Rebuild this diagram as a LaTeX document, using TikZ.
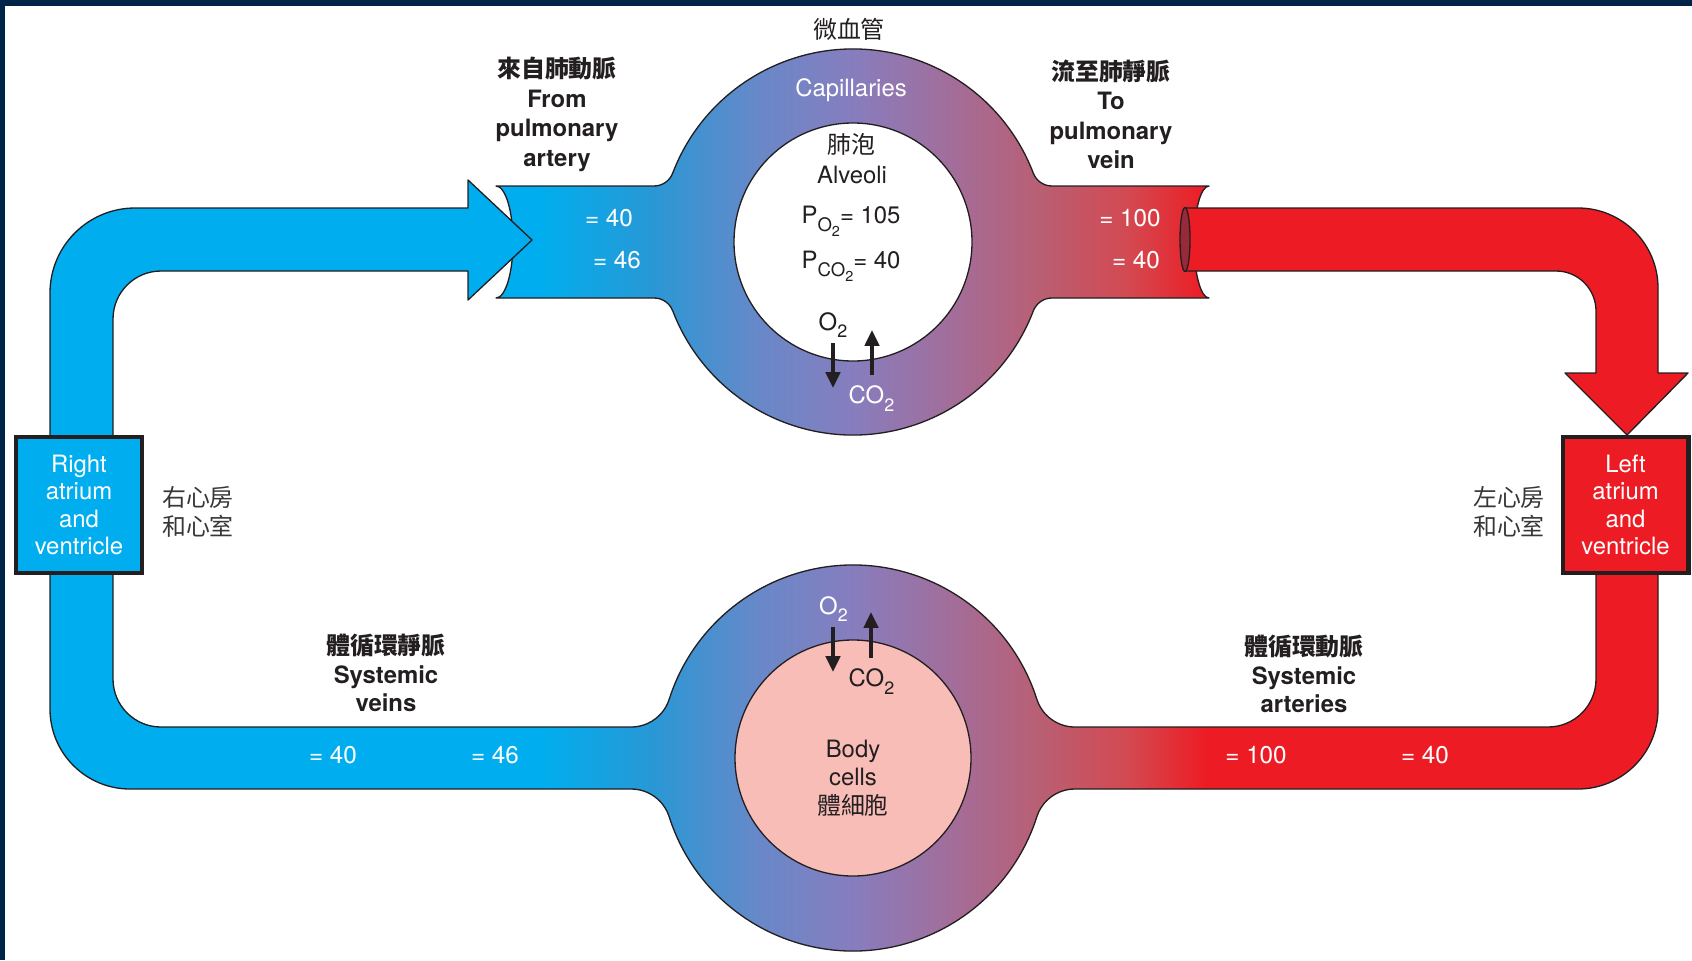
\documentclass[tikz,border=0pt]{standalone}
\usepackage{fontspec}
\setmainfont{TeX Gyre Heros}
\newfontfamily\cjk{Noto Sans CJK TC}
\usetikzlibrary{arrows.meta}
\definecolor{navy}{RGB}{0,36,72}
\definecolor{bluec}{RGB}{0,174,239}
\definecolor{redc}{RGB}{237,28,36}
\definecolor{ga}{RGB}{40,152,214}
\definecolor{gb}{RGB}{105,136,200}
\definecolor{gc}{RGB}{135,125,190}
\definecolor{gd}{RGB}{165,108,150}
\definecolor{ge}{RGB}{185,95,115}
\definecolor{gf}{RGB}{212,72,80}
\definecolor{ink}{RGB}{35,31,32}
\definecolor{pinkc}{RGB}{249,189,184}
\definecolor{darkred}{RGB}{150,42,58}
\definecolor{grayt}{RGB}{55,55,55}

\newcommand\gradfill{%
 \fill[bluec] (0,0) rectangle (541,960);
 \shade[left color=bluec,right color=ga] (540,0) rectangle (651,960);
 \shade[left color=ga,right color=gb] (650,0) rectangle (761,960);
 \shade[left color=gb,right color=gc] (760,0) rectangle (854,960);
 \shade[left color=gc,right color=gd] (853,0) rectangle (961,960);
 \shade[left color=gd,right color=ge] (960,0) rectangle (1041,960);
 \shade[left color=ge,right color=gf] (1040,0) rectangle (1131,960);
 \shade[left color=gf,right color=redc] (1130,0) rectangle (1206,960);
 \fill[redc] (1205,0) rectangle (1692,960);}

\newcommand\toppath{(496,186) -- (654,186)
  arc[start angle=90, end angle=20.9, radius=20]
  arc[start angle=200.9, end angle=339.1, radius=193]
  arc[start angle=159.1, end angle=90, radius=20]
  -- (1209,186)
  arc[start angle=270, end angle=90, x radius=15, y radius=56]
  -- (1052,298)
  arc[start angle=270, end angle=200.9, radius=20]
  arc[start angle=20.9, end angle=159.1, radius=193]
  arc[start angle=-20.9, end angle=-90, radius=20]
  -- (496,298)
  arc[start angle=90, end angle=-90, x radius=17, y radius=56] -- cycle}

\newcommand\botpath{(50,505) -- (50,709)
  arc[start angle=180, end angle=90, radius=80]
  -- (631.08,789)
  arc[start angle=270, end angle=342.26, radius=40]
  arc[start angle=162.26, end angle=17.74, radius=193]
  arc[start angle=197.74, end angle=270, radius=40]
  -- (1578,789)
  arc[start angle=90, end angle=0, radius=80]
  -- (1658,505) -- (1596,505) -- (1596,679)
  arc[start angle=0, end angle=90, radius=48]
  -- (1074.92,727)
  arc[start angle=90, end angle=162.26, radius=40]
  arc[start angle=-17.74, end angle=-162.26, radius=193]
  arc[start angle=17.74, end angle=90, radius=40]
  -- (161,727)
  arc[start angle=90, end angle=180, radius=48]
  -- (113,505) -- cycle}

\newcommand\bluepath{(50,505) -- (50,293)
  arc[start angle=180, end angle=270, radius=85]
  -- (468,208) -- (468,180) -- (532,240) -- (468,300) -- (468,271) -- (161,271)
  arc[start angle=270, end angle=180, radius=48]
  -- (113,505) -- cycle}

\newcommand\redpath{(1185,208) -- (1578,208)
  arc[start angle=270, end angle=360, radius=80]
  -- (1658,373) -- (1688,373) -- (1627,435) -- (1565,373) -- (1596,373) -- (1596,311)
  arc[start angle=0, end angle=-90, radius=40]
  -- (1185,271) -- cycle}

\newcommand\mtwo{\raisebox{-4.3pt}{\fontsize{10.2}{10.2}\selectfont 2}}
\newcommand\mPO{P\raisebox{-5.1pt}{\fontsize{10.6}{10.6}\selectfont O\raisebox{-2.8pt}{\fontsize{8.2}{8.2}\selectfont 2}}}
\newcommand\mPCO{P\raisebox{-5.1pt}{\fontsize{10.6}{10.6}\selectfont CO\raisebox{-2.8pt}{\fontsize{8.2}{8.2}\selectfont 2}}}

\begin{document}
\begin{tikzpicture}[x=0.02cm,y=-0.02cm,
  outl/.style={draw=ink,line width=0.75pt,line join=round},
  lbl/.style={font=\fontsize{13.6}{16.2}\selectfont, align=center, text=ink, inner sep=0pt},
  lblb/.style={font=\bfseries\fontsize{13.6}{16.8}\selectfont, align=center, text=ink, inner sep=0pt},
  val/.style={font=\fontsize{13.8}{16}\selectfont, text=white, inner sep=0pt},
  side/.style={font=\cjk\fontsize{13.6}{16.4}\selectfont, align=center, text=grayt, inner sep=0pt},
  heartbox/.style={draw=ink, line width=2.3pt, minimum width=2.52cm, minimum height=2.72cm,
     inner sep=0pt, align=center, text=white, font=\fontsize{13.6}{15.5}\selectfont},
  gas/.style={draw=ink, line width=2.5pt, -{Triangle[length=9pt,width=8pt]}}]
\useasboundingbox (0,0) rectangle (1692,960);
\fill[white] (0,0) rectangle (1692,960);
\fill[navy] (0,0) rectangle (1692,6);
\fill[navy] (0,0) rectangle (5,960);

% systemic loop (bottom)
\begin{scope}\clip \botpath; \gradfill \end{scope}
\draw[outl] \botpath;
% pulmonary capillary tube (top)
\begin{scope}\clip \toppath; \gradfill \end{scope}
\draw[outl] \toppath;

\draw[outl, fill=white] (853,242) circle[radius=119];
\draw[outl, fill=pinkc] (853,758) circle[radius=118];

\draw[outl, fill=bluec] \bluepath;
\draw[outl, fill=redc] \redpath;
\draw[outl, fill=darkred] (1185,239.5) ellipse[x radius=5, y radius=32];

\node[heartbox, fill=bluec] (rav) at (79,505) {Right\\atrium\\and\\ventricle};
\node[heartbox, fill=redc] (lav) at (1625.5,505) {Left\\atrium\\and\\ventricle};

\node[side] (rcn) at (198,511.5) {右心房\\和心室};
\node[side] (lcn) at (1509,511.5) {左心房\\和心室};

% top labels
\node[lbl] (mxg) at (849,29) {\cjk 微血管};
\node[lbl, text=white] (cap) at (851,90) {Capillaries};
\node[lbl] (fp) at (851,144) {\cjk 肺泡};
\node[lbl] (alv) at (852,175) {Alveoli};
\node[lbl, anchor=base] (po2a) at (851,223) {\mPO= 105};
\node[lbl, anchor=base] (pco2a) at (851,268) {\mPCO= 40};
\node[lbl] (o2a) at (833,325) {O\mtwo};
\node[lbl, text=white] (co2a) at (871.5,398.5) {CO\mtwo};
\draw[gas] (833,343) -- (833,388);
\draw[gas] (872,375) -- (872,330);

\node[lblb] (pa) at (557,114.5) {{\cjk\bfseries 來自肺動脈}\\From\\pulmonary\\artery};
\node[lblb] (pv) at (1111,114.5) {{\cjk\bfseries 流至肺靜脈}\\To\\pulmonary\\vein};

\node[val] (v1) at (609,218) {= 40};
\node[val] (v2) at (617,260) {= 46};
\node[val] (v3) at (1130,218) {= 100};
\node[val] (v4) at (1136,260) {= 40};

% bottom labels
\node[lblb, font=\bfseries\fontsize{13.6}{16.2}\selectfont] (sv) at (386,673) {{\cjk\bfseries 體循環靜脈}\\Systemic\\veins};
\node[lblb, font=\bfseries\fontsize{13.6}{16.2}\selectfont] (sa) at (1304,674) {{\cjk\bfseries 體循環動脈}\\Systemic\\arteries};

\node[val] (v5) at (333,755) {= 40};
\node[val] (v6) at (495,755) {= 46};
\node[val] (v7) at (1256,755) {= 100};
\node[val] (v8) at (1425,755) {= 40};

\node[lbl, text=white] (o2b) at (833.5,609) {O\mtwo};
\node[lbl] (co2b) at (871.5,681.5) {CO\mtwo};
\draw[gas] (833,627) -- (833,672);
\draw[gas] (871,658) -- (871,612);
\node[lbl] (body) at (853,778) {Body\\cells\\{\cjk 體細胞}};
\end{tikzpicture}
\end{document}
